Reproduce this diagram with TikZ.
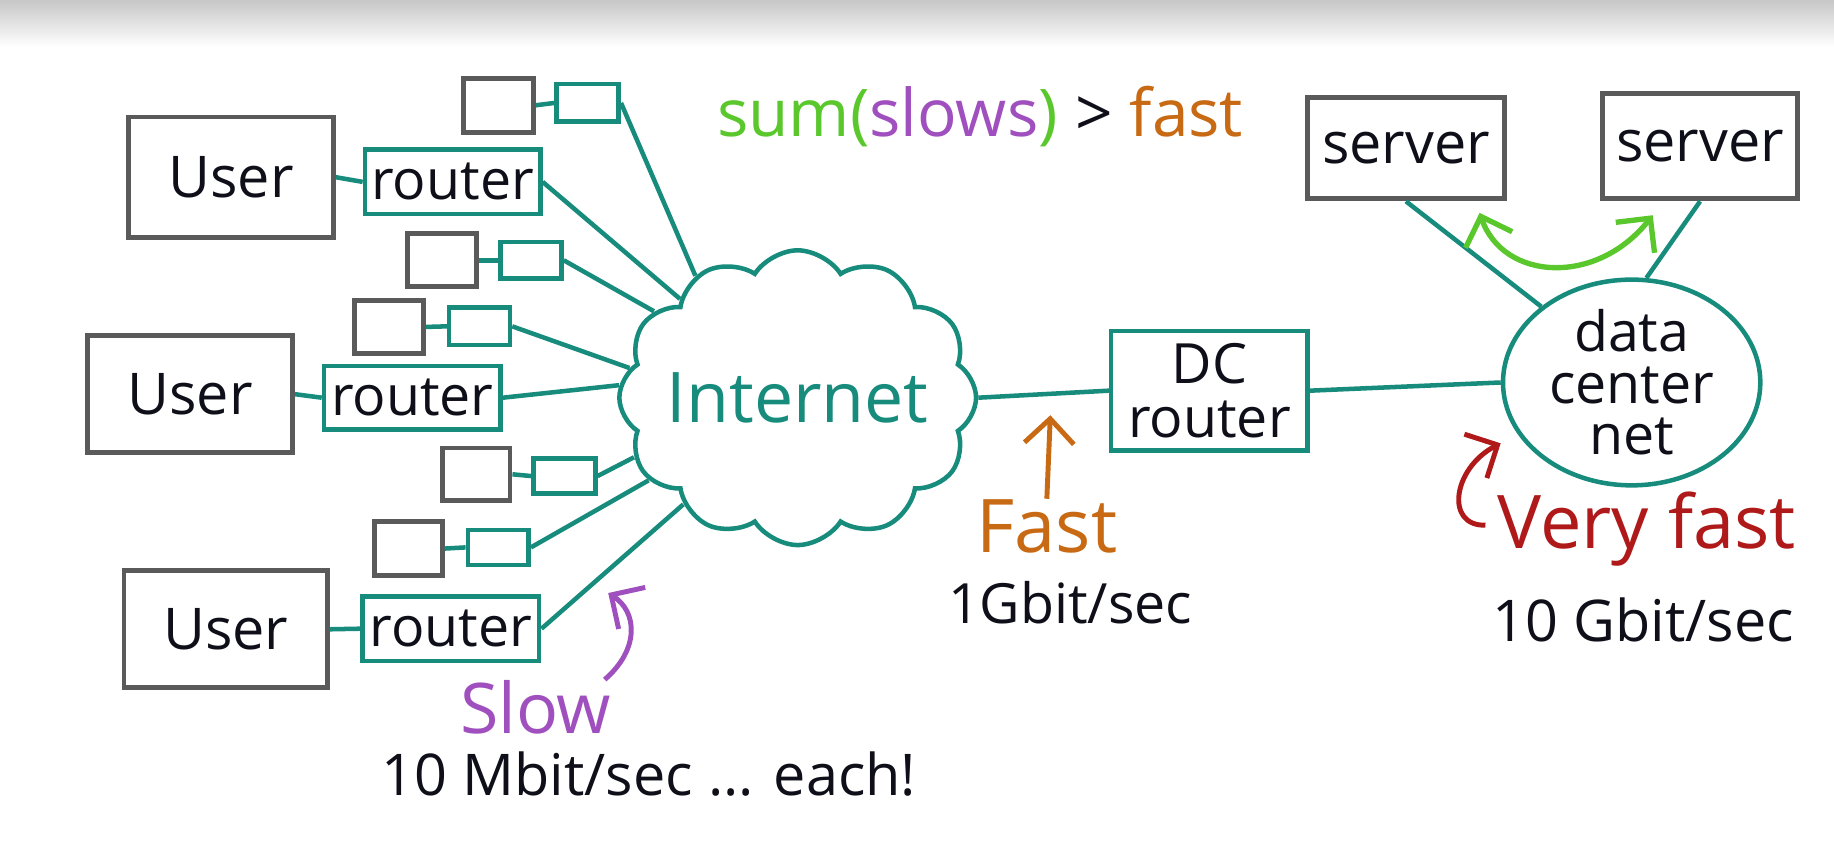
\documentclass[tikz,border=0pt]{standalone}
\usepackage{fontspec}
\setmainfont{Open Sans}
\usetikzlibrary{shapes.symbols,shapes.geometric,arrows.meta}
\definecolor{netteal}{RGB}{24,140,124}
\definecolor{hostgray}{RGB}{90,90,90}
\definecolor{inkblack}{RGB}{15,15,25}
\definecolor{sumgreen}{RGB}{90,200,45}
\definecolor{slowpurple}{RGB}{160,80,190}
\definecolor{fastorange}{RGB}{200,105,20}
\definecolor{veryred}{RGB}{175,25,25}

\begin{document}
\begin{tikzpicture}[x=1cm,y=1cm,
  host/.style={draw=hostgray, line width=1.2pt, rectangle, inner sep=0pt, text=inkblack, font=\fontsize{14}{13}\selectfont},
  rtr/.style={draw=netteal, line width=1.1pt, rectangle, inner sep=0pt, text=inkblack, font=\fontsize{13.5}{13}\selectfont, align=center},
  link/.style={draw=netteal, line width=1.1pt},
  note/.style={inner sep=0pt, text=inkblack, font=\fontsize{14}{16}\selectfont},
  tip/.style={-{Straight Barb[length=6pt,width=12pt]}, line width=1.2pt}]
\useasboundingbox (0,0) rectangle (15.68,7.35);
\shade[top color=black!22, bottom color=white] (0,6.95) rectangle (15.68,7.35);

\node[host, minimum width=1.75cm, minimum height=1.03cm] (user1) at (1.975,5.835) {User};
\node[host, minimum width=1.75cm, minimum height=1.00cm] (user2) at (1.625,3.98) {User};
\node[host, minimum width=1.74cm, minimum height=1.00cm] (user3) at (1.93,1.97) {User};

\node[rtr, minimum width=1.50cm, minimum height=0.55cm] (rtr1) at (3.87,5.795) {router};
\node[rtr, minimum width=1.51cm, minimum height=0.54cm] (rtr2) at (3.525,3.95) {router};
\node[rtr, minimum width=1.51cm, minimum height=0.55cm] (rtr3) at (3.855,1.975) {router};

\node[host, minimum width=0.60cm, minimum height=0.46cm] (g1) at (4.26,6.45) {};
\node[rtr, minimum width=0.53cm, minimum height=0.32cm] (t1) at (5.025,6.47) {};
\node[host, minimum width=0.59cm, minimum height=0.45cm] (g2) at (3.775,5.125) {};
\node[rtr, minimum width=0.52cm, minimum height=0.31cm] (t2) at (4.54,5.125) {};
\node[host, minimum width=0.59cm, minimum height=0.45cm] (g3) at (3.325,4.555) {};
\node[rtr, minimum width=0.52cm, minimum height=0.32cm] (t3) at (4.10,4.56) {};
\node[host, minimum width=0.58cm, minimum height=0.45cm] (g4) at (4.07,3.295) {};
\node[rtr, minimum width=0.53cm, minimum height=0.30cm] (t4) at (4.825,3.28) {};
\node[host, minimum width=0.58cm, minimum height=0.46cm] (g5) at (3.49,2.66) {};
\node[rtr, minimum width=0.52cm, minimum height=0.30cm] (t5) at (4.26,2.67) {};

\node[cloud, cloud puffs=12, cloud puff arc=115, aspect=1.2, draw=netteal, line width=1.1pt,
  minimum width=3.05cm, minimum height=2.52cm, inner sep=0pt,
  label={[text=netteal, font=\fontsize{17}{19}\selectfont]center:Internet}] (inet) at (6.82,3.95) {};

\node[rtr, minimum width=1.68cm, minimum height=1.02cm] (dcr) at (10.34,4.01) {DC\\router};
\node[ellipse, draw=netteal, line width=1.1pt, minimum width=2.2cm, minimum height=1.65cm,
  inner sep=0pt, align=center, text=inkblack, font=\fontsize{13.5}{12.5}\selectfont] (dcnet) at (13.95,4.08) {data\\center\\net};
\node[host, minimum width=1.68cm, minimum height=0.87cm] (srv1) at (12.02,6.085) {server};
\node[host, minimum width=1.67cm, minimum height=0.90cm] (srv2) at (14.535,6.10) {server};

\draw[link] (user1.east) -- (rtr1.west);
\draw[link] (user2.east) -- (rtr2.west);
\draw[link] (user3.east) -- (rtr3.west);
\draw[link] (g1.east) -- (t1.west);
\draw[link] (g2.east) -- (t2.west);
\draw[link] (g3.east) -- (t3.west);
\draw[link] (g4.east) -- (t4.west);
\draw[link] (g5.east) -- (t5.west);

\draw[link] (t1.east) -- (inet.130);
\draw[link] (rtr1.east) -- (inet.140);
\draw[link] (t2.east) -- (inet.149);
\draw[link] (t3.east) -- (inet.170);
\draw[link] (rtr2.east) -- (inet.176);
\draw[link] (t4.east) -- (inet.200);
\draw[link] (t5.east) -- (inet.209);
\draw[link] (rtr3.east) -- (inet.223);

\draw[link] (inet.east) -- (dcr.west);
\draw[link] (dcr.east) -- (dcnet.west);
\draw[link] (srv1.south) -- (dcnet.140);
\draw[link] (srv2.south) -- (dcnet.82);

\node[note, font=\fontsize{16}{18}\selectfont] (sumline) at (8.38,6.35)
  {\textcolor{sumgreen}{sum(}\textcolor{slowpurple}{slows}\textcolor{sumgreen}{)} > \textcolor{fastorange}{fast}};

\node[note, text=fastorange, font=\fontsize{18}{20}\selectfont] (fast) at (8.95,2.85) {Fast};
\node[note, font=\fontsize{13.5}{16}\selectfont] (gbit) at (9.15,2.20) {1Gbit/sec};
\coordinate (fasttip) at (8.98,3.80);
\draw[tip, draw=fastorange] (fast.north) -- (fasttip);

\node[note, text=slowpurple, font=\fontsize{17}{19}\selectfont] (slow) at (4.58,1.30) {Slow};
\node[note] (mbit) at (5.55,0.73) {10 Mbit/sec ... each!};
\coordinate (slowtail) at (5.17,1.54);
\coordinate (slowtip) at (5.20,2.28);
\draw[tip, draw=slowpurple] (slowtail) .. controls (5.47,1.80) and (5.45,2.12) .. (slowtip);

\node[note, text=veryred, font=\fontsize{18}{20}\selectfont] (vfast) at (14.08,2.83) {Very fast};
\node[note] (tengbit) at (14.05,2.05) {10 Gbit/sec};
\coordinate (redtail) at (12.70,2.86);
\coordinate (redtip) at (12.83,3.56);
\draw[tip, draw=veryred] (redtail) .. controls (12.35,2.85) and (12.42,3.35) .. (redtip);

\coordinate (hopleft) at (12.65,5.53);
\coordinate (hopright) at (14.13,5.51);
\draw[{Straight Barb[length=6pt,width=12pt]}-{Straight Barb[length=6pt,width=12pt]}, line width=1.3pt, draw=sumgreen]
  (hopleft) .. controls (12.85,4.95) and (13.65,4.90) .. (hopright);
\end{tikzpicture}
\end{document}
